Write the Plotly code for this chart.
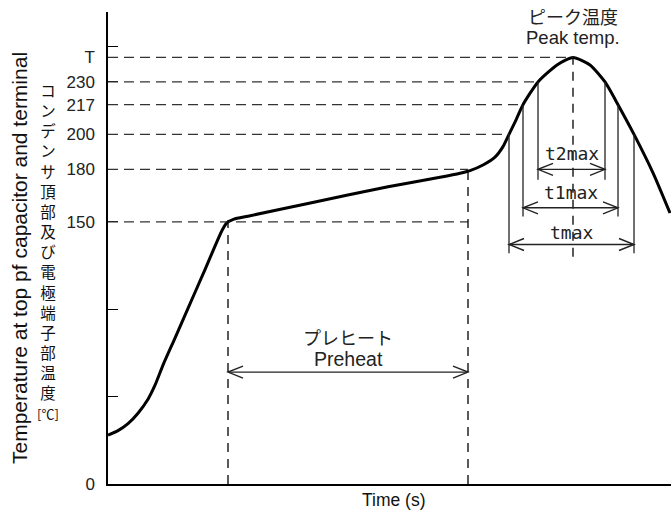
import plotly.graph_objects as go

# ---------------- data ----------------
profile_time = [0, 10, 20, 30, 40, 47, 55, 67, 80, 95, 114, 119, 126, 140, 200, 280, 332, 352, 362,
                375, 387, 395, 401, 407, 415, 430, 449, 465, 482, 497, 510, 526, 545, 562]
profile_temp = [28, 30.5, 34.5, 40.5, 48.5, 56.5, 68, 83.5, 100.5, 120, 145, 149.5, 151.5, 153.2,
                160.5, 170, 175.5, 177.8, 179.3, 182.5, 187, 193, 200, 207, 217, 230, 239.7, 244,
                239.7, 230, 217, 200, 178, 155]

T_PEAK = 244
tick_vals = [0, 50, 100, 150, 180, 200, 217, 230, T_PEAK, 250]
tick_text = ['0', '', '', '150', '180', '200', '217', '230', 'T', '']

levels = [150, 180, 200, 217, 230, T_PEAK]
level_end_time = [360, 360, 401, 415, 430, 465]

preheat_start = 120
preheat_end = 360
preheat_start_temp = 151
preheat_end_temp = 180
preheat_arrow_temp = 64
preheat_label_jp_temp = 84
preheat_label_en_temp = 71.5

peak_time = 465
peak_line_bottom = 130
peak_label_jp_temp = 267.6
peak_label_en_temp = 255.2

window_names = ['t2max', 't1max', 'tmax']
window_level = [230, 217, 200]
window_start = [430, 415, 401]
window_end = [497, 510, 526]
window_line_bottom = [174, 153, 132]
window_arrow_temp = [180, 158, 137]
window_label_temp = [189, 167, 144]

X_RANGE = [0, 563]
Y_RANGE = [0, 270]

# ---------------- layout geometry ----------------
W, H = 671, 514
ML, MR, MT, MB = 108, 0, 12, 30
plot_w = W - ML - MR
plot_h = H - MT - MB
px_per_x = plot_w / (X_RANGE[1] - X_RANGE[0])
px_per_y = plot_h / (Y_RANGE[1] - Y_RANGE[0])

EN = "Liberation Sans, Arial, sans-serif"
JP = "Noto Sans CJK JP, sans-serif"
MONO = "DejaVu Sans Mono, monospace"

fig = go.Figure()
fig.add_trace(go.Scatter(
    x=profile_time, y=profile_temp, mode='lines',
    line=dict(color='black', width=3, shape='spline', smoothing=0.6),
    hoverinfo='skip', showlegend=False))

shapes = []
DASH_H = "10px,6px"
DASH_V = "9px,7px"

# horizontal dashed level lines
for lv, te in zip(levels, level_end_time):
    shapes.append(dict(type='line', xref='x', yref='y', x0=X_RANGE[0], x1=te, y0=lv, y1=lv,
                       line=dict(color='#333', width=1.3, dash=DASH_H)))

# preheat vertical dashed lines
shapes.append(dict(type='line', xref='x', yref='y', x0=preheat_start, x1=preheat_start,
                   y0=Y_RANGE[0], y1=preheat_start_temp,
                   line=dict(color='black', width=1.3, dash=DASH_V)))
shapes.append(dict(type='line', xref='x', yref='y', x0=preheat_end, x1=preheat_end,
                   y0=Y_RANGE[0], y1=preheat_end_temp,
                   line=dict(color='black', width=1.3, dash=DASH_V)))

# peak vertical dashed line
shapes.append(dict(type='line', xref='x', yref='y', x0=peak_time, x1=peak_time,
                   y0=peak_line_bottom, y1=T_PEAK,
                   line=dict(color='black', width=1.3, dash=DASH_V)))

# window solid verticals
for lv, a, b, bot in zip(window_level, window_start, window_end, window_line_bottom):
    for xx in (a, b):
        shapes.append(dict(type='line', xref='x', yref='y', x0=xx, x1=xx, y0=bot, y1=lv,
                           line=dict(color='#222', width=1.3)))

# double arrows with open chevrons
HEAD_LEN_PX = 15
HEAD_HALF_PX = 6


def double_arrow(xa, xb, y):
    out = [dict(type='line', xref='x', yref='y', x0=xa, x1=xb, y0=y, y1=y,
                line=dict(color='#222', width=1.4))]
    dx = HEAD_LEN_PX / px_per_x
    dy = HEAD_HALF_PX / px_per_y
    out.append(dict(type='path', xref='x', yref='y',
                    path=f"M {xa+dx},{y+dy} L {xa},{y} L {xa+dx},{y-dy}",
                    line=dict(color='#222', width=1.4)))
    out.append(dict(type='path', xref='x', yref='y',
                    path=f"M {xb-dx},{y+dy} L {xb},{y} L {xb-dx},{y-dy}",
                    line=dict(color='#222', width=1.4)))
    return out


shapes += double_arrow(preheat_start, preheat_end, preheat_arrow_temp)
for a, b, y in zip(window_start, window_end, window_arrow_temp):
    shapes += double_arrow(a, b, y)

annotations = []
# preheat labels
pre_mid = (preheat_start + preheat_end) / 2
annotations.append(dict(x=pre_mid, y=preheat_label_jp_temp, xref='x', yref='y', text='プレヒート',
                        showarrow=False, font=dict(family=JP, size=18, color='#222')))
annotations.append(dict(x=pre_mid, y=preheat_label_en_temp, xref='x', yref='y', text='Preheat',
                        showarrow=False, font=dict(family=EN, size=19.5, color='#222')))
# peak labels
annotations.append(dict(x=peak_time, y=peak_label_jp_temp, xref='x', yref='y', text='ピーク温度',
                        showarrow=False, font=dict(family=JP, size=18, color='#222')))
annotations.append(dict(x=peak_time, y=peak_label_en_temp, xref='x', yref='y', text='Peak temp.',
                        showarrow=False, font=dict(family=EN, size=18.5, color='#222')))
# window labels
for name, a, b, y in zip(window_names, window_start, window_end, window_label_temp):
    annotations.append(dict(x=(a + b) / 2, y=y, xref='x', yref='y', text=name,
                            showarrow=False, font=dict(family=MONO, size=18, color='#222')))

# axis titles
annotations.append(dict(x=(394 - ML) / plot_w, y=(MT + plot_h - 500) / plot_h,
                        xref='paper', yref='paper', text='Time (s)', showarrow=False,
                        xanchor='center', yanchor='middle',
                        font=dict(family=EN, size=17.5, color='#111')))
annotations.append(dict(x=(19 - ML) / plot_w, y=(MT + plot_h - 258) / plot_h,
                        xref='paper', yref='paper',
                        text='Temperature at top pf capacitor and terminal',
                        textangle=-90, showarrow=False, xanchor='center', yanchor='middle',
                        font=dict(family=EN, size=21, color='#111')))
jp_title = '<br>'.join(list('コンデンサ頂部及び電極端子部温度')) + \
    '<br><span style="font-size:13px">[℃]</span>'
annotations.append(dict(x=(48 - ML) / plot_w, y=(MT + plot_h - 251) / plot_h,
                        xref='paper', yref='paper', text=jp_title, showarrow=False,
                        xanchor='center', yanchor='middle',
                        font=dict(family=JP, size=15.5, color='#111')))

fig.update_layout(
    width=W, height=H,
    margin=dict(l=ML, r=MR, t=MT, b=MB, pad=0),
    plot_bgcolor='white', paper_bgcolor='white',
    shapes=shapes, annotations=annotations,
    xaxis=dict(range=X_RANGE, showgrid=False, zeroline=False, showline=True,
               linecolor='black', linewidth=1.5, showticklabels=False, ticks=''),
    yaxis=dict(range=Y_RANGE, showgrid=False, zeroline=False, showline=True,
               linecolor='black', linewidth=1.5, tickmode='array',
               tickvals=tick_vals, ticktext=tick_text, ticks='inside', ticklen=10,
               tickwidth=1.2, tickcolor='black', ticklabelstandoff=8,
               tickfont=dict(family=EN, size=17, color='#222')),
)

fig.write_html("out.html", config={'displayModeBar': False},
               post_script="document.body.style.margin='0';")
